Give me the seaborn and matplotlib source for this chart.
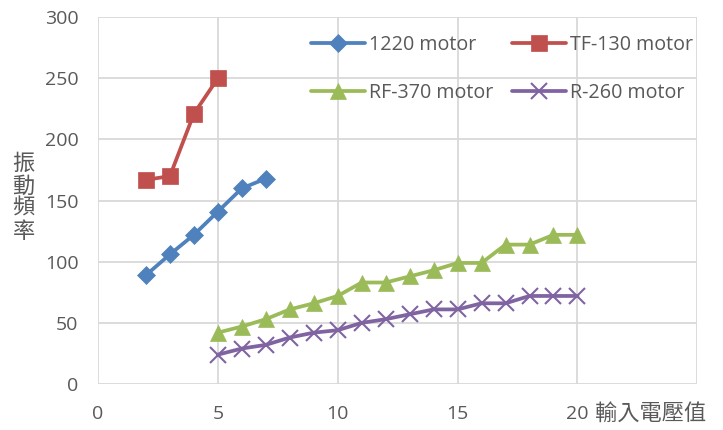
import pandas as pd
import matplotlib
matplotlib.use("Agg")
import matplotlib.pyplot as plt
import seaborn as sns

# data
volt_1220 = [2, 3, 4, 5, 6, 7]
freq_1220 = [89, 106, 122, 141, 160, 168]

volt_tf130 = [2, 3, 4, 5]
freq_tf130 = [167, 170, 221, 250]

volt_rf370 = [5, 6, 7, 8, 9, 10, 11, 12, 13, 14, 15, 16, 17, 18, 19, 20]
freq_rf370 = [42, 47, 53, 61, 66, 72, 83, 83, 88, 93, 99, 99, 114, 114, 122, 122]

volt_r260 = [5, 6, 7, 8, 9, 10, 11, 12, 13, 14, 15, 16, 17, 18, 19, 20]
freq_r260 = [24, 29, 32, 38, 42, 44, 50, 53, 57, 61, 61, 66, 66, 72, 72, 72]

x_ticks = [0, 5, 10, 15, 20]
y_ticks = [0, 50, 100, 150, 200, 250, 300]

sns.set_style("whitegrid", {"grid.color": "#D9D9D9", "axes.edgecolor": "#D9D9D9"})
plt.rcParams['font.family'] = ['Open Sans', 'Noto Sans CJK TC', 'DejaVu Sans']

fig = plt.figure(figsize=(7.23, 4.30), dpi=100)
ax = fig.add_axes([0.1355, 0.107, 0.829, 0.853])

series = [
    ("1220 motor", volt_1220, freq_1220, "#4F81BD", "D", 9),
    ("TF-130 motor", volt_tf130, freq_tf130, "#C0504D", "s", 11.5),
    ("RF-370 motor", volt_rf370, freq_rf370, "#9BBB59", "^", 11.5),
    ("R-260 motor", volt_r260, freq_r260, "#8064A2", "x", 11),
]

for name, xs, ys, col, mk, ms in series:
    df = pd.DataFrame({"volt": xs, "freq": ys})
    sns.lineplot(data=df, x="volt", y="freq", ax=ax, color=col, marker=mk,
                 markersize=ms, linewidth=2.7, label=name,
                 markeredgecolor=col, markeredgewidth=1.5 if mk == "x" else 0.5)

ax.set_xlim(0, 25)
ax.set_ylim(0, 300)
ax.set_xticks([0, 5, 10, 15, 20, 25])
ax.set_xticklabels([str(t) for t in x_ticks] + [""])
ax.set_yticks(y_ticks)
ax.grid(True, linewidth=1.3)
ax.tick_params(length=0, labelsize=14, colors="#595959")
ax.tick_params(axis="x", pad=15)
ax.tick_params(axis="y", pad=14)
for s in ax.spines.values():
    s.set_visible(False)
ax.set_xlabel("")
ax.set_ylabel("")

ax.text(20.74, -24.5, "輸入電壓值", fontsize=16, color="#595959", va="center", ha="left")
ax.text(-3.1, 152, "振\n動\n頻\n率", fontsize=16, color="#595959", va="center",
        ha="center", linespacing=1.1)

# row-major legend order like the reference
h, l = ax.get_legend_handles_labels()
order = [0, 2, 1, 3]
ax.legend([h[i] for i in order], [l[i] for i in order], ncol=2, loc="upper left",
          bbox_to_anchor=(311 / 723, 0.918), bbox_transform=fig.transFigure,
          borderaxespad=0, borderpad=0, frameon=False, fontsize=14.2,
          labelcolor="#595959", handlelength=2.75, handletextpad=0.2,
          columnspacing=0.95, labelspacing=1.4)

fig.savefig("out.png", dpi=100)
